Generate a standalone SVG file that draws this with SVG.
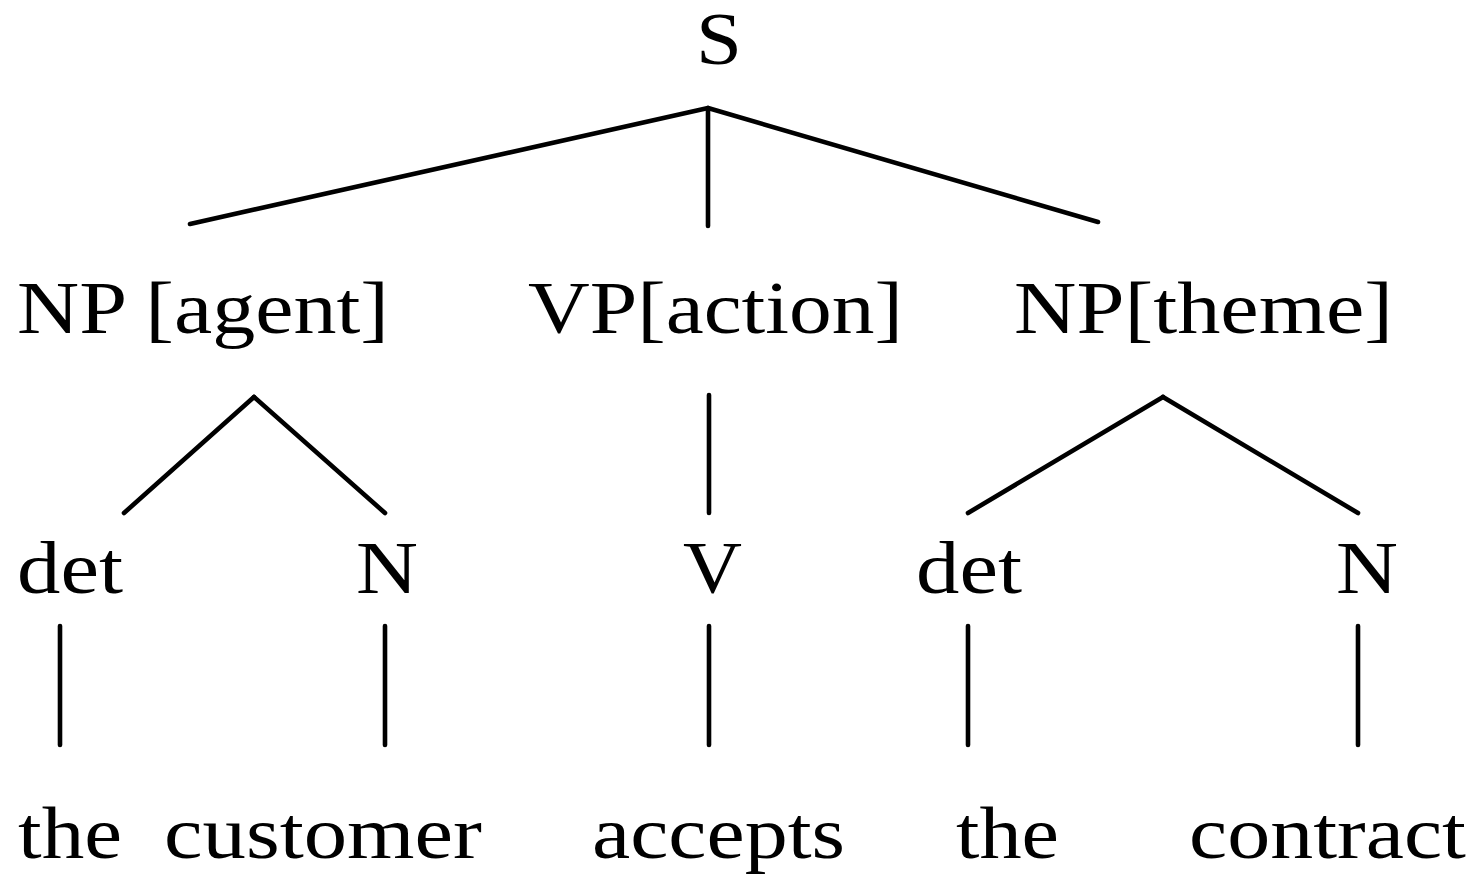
<svg xmlns="http://www.w3.org/2000/svg" width="1475" height="874" viewBox="0 0 1475 874">
<style>
text{font-family:"Liberation Serif","Times New Roman",serif;font-size:75px;fill:#000}
.e{stroke:#000;stroke-width:4.6;stroke-linecap:round;fill:none}
</style>
<rect width="1475" height="874" fill="#fff"/>
<g id="connectors">
<line class="e" x1="708" y1="108" x2="190" y2="224"/>
<line class="e" x1="708" y1="108" x2="708" y2="226"/>
<line class="e" x1="708" y1="108" x2="1098" y2="222"/>
<line class="e" x1="254" y1="397" x2="124" y2="513"/>
<line class="e" x1="254" y1="397" x2="385" y2="513"/>
<line class="e" x1="709" y1="395" x2="709" y2="513"/>
<line class="e" x1="1163" y1="397" x2="968" y2="513"/>
<line class="e" x1="1163" y1="397" x2="1358" y2="513"/>
<line class="e" x1="60" y1="626" x2="60" y2="745"/>
<line class="e" x1="385" y1="626" x2="385" y2="745"/>
<line class="e" x1="709" y1="626" x2="709" y2="745"/>
<line class="e" x1="968" y1="626" x2="968" y2="745"/>
<line class="e" x1="1358" y1="626" x2="1358" y2="745"/>
</g>
<g id="S"><text x="696" y="64" textLength="46" lengthAdjust="spacingAndGlyphs">S</text></g>
<g id="NP-agent"><text x="17" y="333" textLength="372" lengthAdjust="spacingAndGlyphs">NP [agent]</text></g>
<g id="VP-action"><text x="528" y="333" textLength="375" lengthAdjust="spacingAndGlyphs">VP[action]</text></g>
<g id="NP-theme"><text x="1014" y="333" textLength="379" lengthAdjust="spacingAndGlyphs">NP[theme]</text></g>
<g id="det1"><text x="17" y="593" textLength="106" lengthAdjust="spacingAndGlyphs">det</text></g>
<g id="N1"><text x="356" y="593" textLength="62" lengthAdjust="spacingAndGlyphs">N</text></g>
<g id="V"><text x="683" y="593" textLength="59" lengthAdjust="spacingAndGlyphs">V</text></g>
<g id="det2"><text x="916" y="593" textLength="106" lengthAdjust="spacingAndGlyphs">det</text></g>
<g id="N2"><text x="1336" y="593" textLength="62" lengthAdjust="spacingAndGlyphs">N</text></g>
<g id="the1"><text x="18" y="858" textLength="104" lengthAdjust="spacingAndGlyphs">the</text></g>
<g id="customer"><text x="164" y="858" textLength="318" lengthAdjust="spacingAndGlyphs">customer</text></g>
<g id="accepts"><text x="592" y="858" textLength="253" lengthAdjust="spacingAndGlyphs">accepts</text></g>
<g id="the2"><text x="956" y="858" textLength="103" lengthAdjust="spacingAndGlyphs">the</text></g>
<g id="contract"><text x="1189" y="858" textLength="277" lengthAdjust="spacingAndGlyphs">contract</text></g>
</svg>
